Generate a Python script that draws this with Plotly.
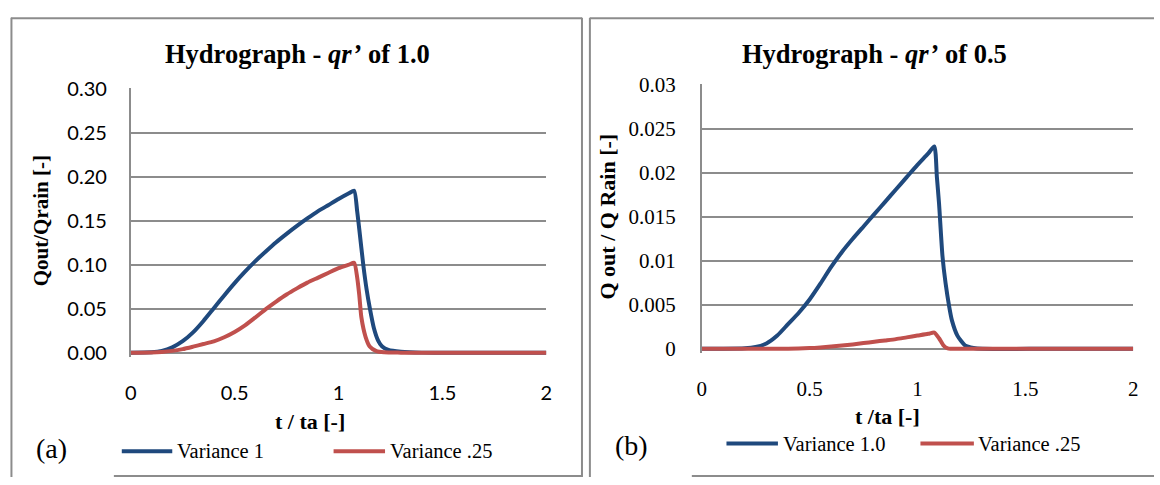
import plotly.graph_objects as go

W, H = 1160, 485

# ---------------- data ----------------
# Panel (a): qr' = 1.0
t_a_v1 = [0, 0.1, 0.15, 0.2, 0.25, 0.3, 0.35, 0.4, 0.45, 0.5, 0.55, 0.6, 0.65, 0.7, 0.75,
          0.8, 0.85, 0.9, 0.95, 1.0, 1.05, 1.075, 1.09, 1.1, 1.119, 1.135, 1.151, 1.17,
          1.19, 1.21, 1.24, 1.3, 1.4, 1.6, 1.8, 2.0]
q_a_v1 = [0, 0.0005, 0.002, 0.006, 0.013, 0.023, 0.036, 0.0505, 0.065, 0.079, 0.092,
          0.104, 0.115, 0.1255, 0.135, 0.144, 0.1525, 0.1605, 0.1675, 0.1745, 0.181, 0.184,
          0.160, 0.140, 0.100, 0.072, 0.050, 0.028, 0.014, 0.007, 0.003, 0.001, 0, 0, 0, 0]

t_a_v25 = [0, 0.1, 0.15, 0.2, 0.25, 0.3, 0.35, 0.4, 0.45, 0.5, 0.55, 0.6, 0.65, 0.7, 0.75,
           0.8, 0.85, 0.9, 0.95, 1.0, 1.05, 1.075, 1.09, 1.1, 1.11, 1.13, 1.15, 1.18, 1.22,
           1.3, 1.6, 2.0]
q_a_v25 = [0, 0.0002, 0.0008, 0.002, 0.004, 0.0068, 0.0098, 0.0128, 0.0175, 0.0235, 0.031,
           0.040, 0.0495, 0.058, 0.066, 0.073, 0.0795, 0.085, 0.0905, 0.096, 0.100, 0.102,
           0.085, 0.065, 0.040, 0.018, 0.007, 0.002, 0.0003, 0, 0, 0]

# Panel (b): qr' = 0.5
t_b_v1 = [0, 0.1, 0.2, 0.25, 0.3, 0.35, 0.4, 0.45, 0.5, 0.55, 0.6, 0.65, 0.7, 0.75, 0.8,
          0.85, 0.9, 0.95, 1.0, 1.05, 1.078, 1.09, 1.1, 1.116, 1.13, 1.147, 1.16, 1.185,
          1.22, 1.26, 1.3, 1.6, 2.0]
q_b_v1 = [0, 0, 0.00005, 0.0002, 0.0006, 0.0015, 0.0028, 0.0041, 0.0056, 0.0074, 0.0093,
          0.0110, 0.0125, 0.0139, 0.0153, 0.0167, 0.0181, 0.0195, 0.0209, 0.0222, 0.0230,
          0.0195, 0.0165, 0.0105, 0.0075, 0.0048, 0.0032, 0.0015, 0.0004, 0.0001, 0, 0, 0]

t_b_v25 = [0, 0.3, 0.4, 0.5, 0.55, 0.6, 0.65, 0.7, 0.75, 0.8, 0.85, 0.9, 0.95, 1.0, 1.05,
           1.078, 1.1, 1.12, 1.14, 1.2, 1.6, 2.0]
q_b_v25 = [0, 0, 0.00002, 0.00008, 0.00015, 0.00025, 0.00037, 0.0005, 0.00065, 0.0008,
           0.00095, 0.0011, 0.0013, 0.0015, 0.0017, 0.00185, 0.0012, 0.0004, 0.00005, 0, 0, 0]

x_ticks = [0, 0.5, 1, 1.5, 2]
x_tick_text = ["0", "0.5", "1", "1.5", "2"]
y_ticks_a = [0, 0.05, 0.10, 0.15, 0.20, 0.25, 0.30]
y_tick_text_a = ["0.00", "0.05", "0.10", "0.15", "0.20", "0.25", "0.30"]
y_ticks_b = [0, 0.005, 0.01, 0.015, 0.02, 0.025, 0.03]
y_tick_text_b = ["0", "0.005", "0.01", "0.015", "0.02", "0.025", "0.03"]

BLUE = "#1F497D"
RED = "#C0504D"
GRID = "#8c8c8c"
SERIF = "Liberation Serif"
SANS = "Lato"


def px(x):
    return x / W


def py(y):
    return 1 - y / H


fig = go.Figure()

line_common = dict(width=4, shape="spline", smoothing=0.6)
fig.add_trace(go.Scatter(x=t_a_v1, y=q_a_v1, mode="lines", name="Variance 1",
                         line=dict(color=BLUE, **line_common), xaxis="x", yaxis="y"))
fig.add_trace(go.Scatter(x=t_a_v25, y=q_a_v25, mode="lines", name="Variance .25",
                         line=dict(color=RED, **line_common), xaxis="x", yaxis="y"))
fig.add_trace(go.Scatter(x=t_b_v1, y=q_b_v1, mode="lines", name="Variance 1.0",
                         line=dict(color=BLUE, **line_common), xaxis="x2", yaxis="y2"))
fig.add_trace(go.Scatter(x=t_b_v25, y=q_b_v25, mode="lines", name="Variance .25",
                         line=dict(color=RED, **line_common), xaxis="x2", yaxis="y2"))

# pixel geometry of the plot areas
# left: x 0->126, 2->546 ; y 0->355, 0.30->79
ka = (355 - 79) / 0.30
ya_lo, ya_hi = -0.0045, 0.3003
a_bot = 355 - ya_lo * ka
a_top = 355 - ya_hi * ka
# right: x 0->703, 2->1139 ; y 0->351, 0.03->75
kb = (351 - 75) / 0.03
yb_lo, yb_hi = -0.00045, 0.03003
b_bot = 351 - yb_lo * kb
b_top = 351 - yb_hi * kb

common_x = dict(range=[0, 2], tickvals=x_ticks, ticktext=x_tick_text, showgrid=False,
                zeroline=False, showline=False, ticks="", fixedrange=True)

fig.update_layout(
    width=W, height=H,
    margin=dict(l=0, r=0, t=0, b=0),
    paper_bgcolor="white", plot_bgcolor="white",
    showlegend=False,
    xaxis=dict(domain=[px(126), px(546)], anchor="y",
               tickfont=dict(family=SANS, size=20, color="black"),
               ticklabelstandoff=22, **common_x),
    yaxis=dict(domain=[py(a_bot), py(a_top)], anchor="x", range=[ya_lo, ya_hi],
               tickvals=y_ticks_a, ticktext=y_tick_text_a,
               tickfont=dict(family=SANS, size=20, color="black"),
               showgrid=True, gridcolor=GRID, gridwidth=1.6,
               showline=True, linecolor=GRID, linewidth=1.6,
               zeroline=False, ticks="", ticklabelstandoff=18, fixedrange=True),
    xaxis2=dict(domain=[px(703), px(1139)], anchor="y2",
                tickfont=dict(family=SERIF, size=21, color="black"),
                ticklabelstandoff=21, **common_x),
    yaxis2=dict(domain=[py(b_bot), py(b_top)], anchor="x2", range=[yb_lo, yb_hi],
                tickvals=y_ticks_b, ticktext=y_tick_text_b,
                tickfont=dict(family=SERIF, size=21, color="black"),
                showgrid=True, gridcolor=GRID, gridwidth=1.6,
                showline=True, linecolor=GRID, linewidth=1.6,
                zeroline=False, ticks="", ticklabelstandoff=20, fixedrange=True),
)

shapes = []


def seg(x0, y0, x1, y1, color=GRID, width=2):
    shapes.append(dict(type="line", xref="paper", yref="paper",
                       x0=px(x0), y0=py(y0), x1=px(x1), y1=py(y1),
                       line=dict(color=color, width=width)))


# panel borders
seg(5.5, 5, 5.5, 485)
seg(5, 5.5, 582, 5.5)
seg(582, 5, 582, 485)
seg(109, 484, 582, 484)
seg(590, 5, 590, 485)
seg(590, 5.5, 1160, 5.5)
seg(693, 484, 1160, 484)

# legend line samples
seg(117, 458, 168, 458, BLUE, 4)
seg(331, 458, 383, 458, RED, 4)
seg(728, 450, 780, 450, BLUE, 4)
seg(924, 450, 978, 450, RED, 4)

fig.update_layout(shapes=shapes)

ann = []


def text(x, y, s, size, xanchor="center", angle=0, family=SERIF):
    ann.append(dict(x=px(x), y=py(y), xref="paper", yref="paper", text=s, showarrow=False,
                    xanchor=xanchor, yanchor="middle", textangle=angle,
                    font=dict(family=family, size=size, color="black")))


text(295, 43, "<b>Hydrograph - <i>qr’</i> of 1.0</b>", 26.5)
text(878, 43, "<b>Hydrograph - <i>qr’</i> of 0.5</b>", 26.5)
text(307, 427, "<b>t / ta [-]</b>", 22)
text(891, 422, "<b>t /ta [-]</b>", 22)
text(35, 217, "<b>Qout/Qrain [-]</b>", 21, angle=-90)
text(608, 213, "<b>Q out / Q Rain [-]</b>", 22, angle=-90)
text(46, 455, "(a)", 28)
text(632, 452, "(b)", 28)
text(171, 458, "Variance 1", 20.5, xanchor="left")
text(386, 458, "Variance .25", 20.5, xanchor="left")
text(783, 450, "Variance 1.0", 20.5, xanchor="left")
text(980, 450, "Variance .25", 20.5, xanchor="left")

fig.update_layout(annotations=ann)

fig.write_html("out.html",
               post_script="document.body.style.margin='0';document.body.style.overflow='hidden';")
